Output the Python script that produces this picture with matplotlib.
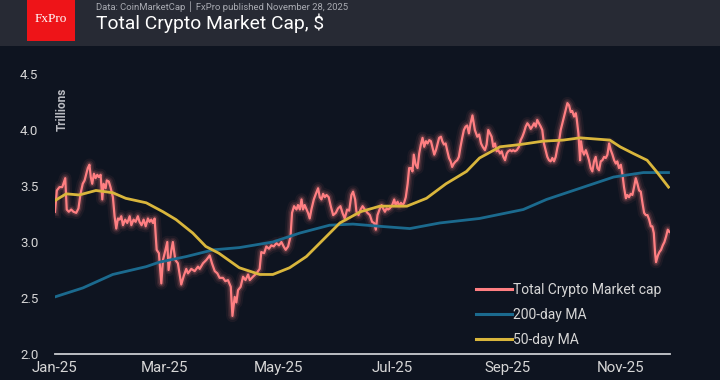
import datetime as dt

import matplotlib

matplotlib.use("Agg")
import matplotlib.dates as mdates
import matplotlib.pyplot as plt
from matplotlib.patches import Rectangle

# days since 2025-01-01, values in $ trillions
mcap_day = [
    0, 1.0, 2.4, 3.9, 5.5, 6.3, 7.4, 8.7, 9.9, 11.4, 12.6, 13.7, 14.9, 15.9, 16.8, 17.6, 18.5,
    19.2, 20.0, 20.9, 21.8, 22.7, 23.5, 24.5, 25.4, 26.1, 27.2, 27.8, 28.9, 29.8, 31.1, 32.0,
    32.9, 33.8, 34.7, 35.6, 36.5, 37.7, 38.8, 40.1, 41.0, 42.2, 43.3, 44.5, 45.4, 46.5, 47.6,
    48.7, 49.9, 50.8, 51.7, 52.6, 53.5, 54.6, 55.8, 57.1, 58.0, 58.9, 60.3, 61.0, 62.5, 63.3,
    64.6, 66.0, 67.8, 69.2, 70.5, 71.4, 73.2, 75.0, 76.8, 77.7, 79.5, 81.3, 83.1, 84.3, 85.8,
    87.2, 88.4, 90.2, 91.5, 92.9, 94.4, 95.3, 96.5, 97.4, 98.3, 99.7, 101.0, 102.3, 103.7,
    104.6, 106.3, 108.2, 109.9, 110.8, 112.3, 113.5, 114.9, 116.2, 117.5, 118.9, 120.3, 121.6,
    122.8, 123.9, 125.2, 126.5, 127.3, 128.4, 129.7, 130.5, 131.5, 132.4, 133.2, 134.1, 135.1,
    135.9, 136.8, 137.7, 139.0, 140.1, 141.3, 142.2, 143.1, 144.0, 144.9, 145.8, 147.0, 148.1,
    149.4, 150.8, 152.0, 153.3, 154.4, 155.6, 156.9, 158.0, 159.2, 160.1, 161.2, 161.9, 163.0,
    164.1, 165.2, 166.4, 167.8, 169.1, 170.3, 171.4, 172.3, 173.2, 174.5, 175.4, 176.2, 177.2,
    178.1, 178.9, 179.8, 181.1, 182.2, 182.9, 184.0, 184.8, 185.8, 186.7, 187.5, 188.4, 189.4,
    190.2, 191.1, 192.0, 192.7, 193.7, 194.7, 195.6, 196.5, 197.4, 198.3, 199.2, 200.1, 201.0,
    201.9, 202.8, 203.7, 204.6, 205.5, 206.3, 207.3, 208.0, 208.9, 209.8, 210.6, 211.6, 212.5,
    213.3, 214.2, 215.2, 216.0, 216.9, 217.8, 218.7, 219.6, 220.5, 221.4, 222.3, 223.2, 224.2,
    225.5, 226.8, 227.8, 228.8, 229.7, 230.9, 231.8, 232.7, 233.6, 234.5, 235.4, 236.3, 237.2,
    238.1, 239.0, 239.9, 240.8, 241.7, 242.6, 243.4, 244.4, 245.3, 246.1, 247.0, 248.0, 249.2,
    250.1, 251.0, 251.9, 252.8, 253.7, 254.6, 255.5, 256.3, 257.3, 258.2, 259.0, 259.9, 260.9,
    261.7, 262.6, 263.5, 264.4, 265.3, 266.2, 267.1, 268.0, 268.9, 269.8, 270.7, 271.6, 272.5,
    273.4, 274.3, 275.2, 276.1, 277.0, 277.8, 278.8, 279.7, 280.2, 281.1, 282.0, 282.5, 283.2,
    284.1, 285.1, 285.9, 286.8, 287.7, 288.6, 289.5, 290.4, 291.3, 292.2, 293.1, 294.0, 294.9,
    295.8, 296.7, 297.6, 298.5, 299.4, 300.3, 301.2, 302.0, 302.9, 303.9, 304.7, 305.6, 306.6,
    307.4, 308.3, 309.2, 310.1, 311.0, 311.9, 312.8, 313.7, 314.6, 315.5, 316.4, 317.3, 318.2,
    319.1, 320.0, 320.8, 321.6, 322.3, 322.8, 323.8, 324.6, 325.5, 326.4, 327.3, 328.2, 329.1,
    330.0,
]
mcap_val = [
    3.27, 3.46, 3.49, 3.49, 3.57, 3.29, 3.27, 3.29, 3.27, 3.26, 3.30, 3.43, 3.52, 3.55, 3.61, 3.66, 3.69,
    3.58, 3.52, 3.61, 3.57, 3.60, 3.58, 3.60, 3.38, 3.52, 3.48, 3.55, 3.54, 3.49, 3.40, 3.23,
    3.12, 3.21, 3.20, 3.23, 3.15, 3.20, 3.17, 3.23, 3.15, 3.20, 3.18, 3.23, 3.18, 3.15, 3.20,
    3.14, 3.21, 3.18, 3.20, 3.17, 3.21, 2.93, 2.90, 2.63, 2.84, 2.90, 3.00, 2.75, 2.93, 3.00,
    2.84, 2.81, 2.62, 2.70, 2.76, 2.72, 2.76, 2.74, 2.78, 2.76, 2.81, 2.84, 2.88, 2.81, 2.74,
    2.72, 2.68, 2.68, 2.65, 2.66, 2.60, 2.34, 2.51, 2.46, 2.57, 2.60, 2.69, 2.66, 2.71,
    2.66, 2.69, 2.72, 2.76, 2.91, 2.90, 2.96, 2.94, 2.97, 2.96, 2.99, 2.97, 3.00,
    2.96, 2.93, 2.96, 3.05, 3.26, 3.32, 3.29, 3.33, 3.29, 3.38, 3.29, 3.33, 3.29,
    3.26, 3.21, 3.29, 3.38, 3.43, 3.48, 3.40, 3.38, 3.43, 3.40, 3.42, 3.40, 3.32,
    3.24, 3.26, 3.30, 3.32, 3.26, 3.21, 3.29, 3.28, 3.42, 3.45, 3.38, 3.27, 3.24,
    3.29, 3.32, 3.29, 3.26, 3.24, 3.18, 3.17, 3.11, 3.24, 3.30, 3.33, 3.30, 3.27,
    3.30, 3.29, 3.30, 3.33, 3.38, 3.33, 3.36, 3.32, 3.35, 3.33, 3.35, 3.40, 3.52,
    3.66, 3.66, 3.63, 3.78, 3.69, 3.66, 3.79, 3.87, 3.93, 3.85, 3.90, 3.88, 3.91,
    3.90, 3.84, 3.78, 3.82, 3.88, 3.93, 3.94, 3.90, 3.87, 3.88, 3.82, 3.75, 3.72,
    3.67, 3.70, 3.72, 3.73, 3.76, 3.85, 3.93, 4.00, 4.03, 4.04, 3.97, 4.06, 4.13,
    4.00, 3.94, 3.96, 3.88, 3.85, 3.82, 3.87, 4.00, 3.97, 3.94, 3.85, 3.88, 3.81,
    3.82, 3.79, 3.81, 3.76, 3.73, 3.79, 3.81, 3.82, 3.81, 3.82, 3.81, 3.82, 3.85,
    3.91, 3.94, 3.98, 4.03, 4.06, 4.04, 4.01, 4.03, 4.06, 4.03, 4.09, 4.06, 4.03,
    4.00, 3.88, 3.82, 3.76, 3.73, 3.72, 3.75, 3.72, 3.76, 3.84, 3.90, 4.00, 4.06,
    4.12, 4.18, 4.24, 4.22, 4.16, 4.17, 4.12, 4.15, 4.10, 3.97, 3.73, 3.90, 3.82,
    3.78, 3.82, 3.78, 3.73, 3.66, 3.63, 3.72, 3.76, 3.66, 3.64, 3.72, 3.73, 3.76,
    3.75, 3.78, 3.88, 3.82, 3.78, 3.73, 3.70, 3.72, 3.66, 3.69, 3.61, 3.49, 3.39,
    3.42, 3.40, 3.43, 3.42, 3.49, 3.57, 3.52, 3.46, 3.45, 3.35, 3.26, 3.24, 3.24,
    3.20, 3.14, 3.14, 3.08, 2.90, 2.82, 2.88, 2.91, 2.93, 2.97, 3.00, 3.05, 3.11,
    3.09,
]

ma200_day = [0, 15, 31, 49, 56, 70.5, 85, 99, 117, 131.5, 147.5, 160, 174.5, 190.6, 206.7,
             228, 251.5, 264, 282, 300, 316, 329.5]
ma200_val = [2.51, 2.59, 2.71, 2.78, 2.82, 2.87, 2.93, 2.95, 3.00, 3.08, 3.15, 3.16, 3.14, 3.12,
             3.17, 3.21, 3.29, 3.38, 3.48, 3.58, 3.62, 3.62]

ma50_day = [0, 6, 13, 22, 31, 38, 49, 58, 65, 74, 81, 88, 99, 110, 117, 126, 135, 144, 153, 164,
            174.5, 189, 199.5, 210, 221, 228, 239, 249.7, 262, 273, 282, 298, 303.5, 310.6, 318,
            323, 329.5]
ma50_val = [3.37, 3.43, 3.42, 3.46, 3.44, 3.39, 3.35, 3.27, 3.20, 3.08, 2.96, 2.90, 2.77, 2.71,
            2.71, 2.77, 2.87, 3.02, 3.17, 3.27, 3.32, 3.32, 3.39, 3.52, 3.63, 3.75, 3.85, 3.87,
            3.90, 3.91, 3.93, 3.91, 3.85, 3.79, 3.73, 3.63, 3.49]

BG = "#0e1420"
HEADER = "#272a34"
RED = "#ff7f82"
BLUE = "#1b6a8e"
YELLOW = "#d9b63c"
TXT = "#d6d6d6"

plt.rcParams["font.family"] = ["Roboto", "DejaVu Sans"]

base = mdates.date2num(dt.datetime(2025, 1, 1))


def to_x(days):
    return [base + d for d in days]


fig = plt.figure(figsize=(7.2, 3.8), dpi=100, facecolor=BG)

# header strip + logo
fig.patches.append(Rectangle((0, 1 - 46 / 380), 1, 46 / 380, transform=fig.transFigure,
                             facecolor=HEADER, edgecolor="none", zorder=0))
fig.patches.append(Rectangle((27 / 720, 1 - 41 / 380), 48 / 720, 41 / 380, transform=fig.transFigure,
                             facecolor="#ee1418", edgecolor="none", zorder=1))
fig.text(51 / 720, 1 - 19 / 380, "FxPro", color="white", fontsize=9.5, ha="center", va="center",
         family=["Liberation Serif", "DejaVu Serif"])
fig.text(96 / 720, 1 - 7 / 380, "Data: CoinMarketCap \u2502 FxPro published November 28, 2025",
         color="#a9abb2", fontsize=6.8, ha="left", va="center")
fig.text(96 / 720, 1 - 23 / 380, "Total Crypto Market Cap, $", color="white", fontsize=13.9,
         ha="left", va="center")

ax = fig.add_axes([55 / 720, 26 / 380, 615 / 720, 280 / 380])
ax.set_facecolor(BG)

x = to_x(mcap_day)
# soft glow under the main series
for lw, a in ((9, 0.06), (6, 0.10), (3.8, 0.18)):
    ax.plot(x, mcap_val, color=RED, lw=lw, alpha=a, solid_joinstyle="round", zorder=2)
ax.plot(x, mcap_val, color=RED, lw=1.6, zorder=3, label="Total Crypto Market cap")
ax.plot(to_x(ma200_day), ma200_val, color=BLUE, lw=2, zorder=4, label="200-day MA")
ax.plot(to_x(ma50_day), ma50_val, color=YELLOW, lw=2, zorder=4, label="50-day MA")

ax.set_ylim(2.0, 4.5)
ax.set_xlim(base, base + 330.3)
ax.set_yticks([2.0, 2.5, 3.0, 3.5, 4.0, 4.5])
ax.yaxis.set_major_formatter(matplotlib.ticker.FormatStrFormatter("%.1f"))
ax.xaxis.set_major_locator(mdates.MonthLocator(bymonth=[1, 3, 5, 7, 9, 11]))
ax.xaxis.set_major_formatter(mdates.DateFormatter("%b-%y"))
ax.tick_params(axis="both", length=0, colors=TXT)
ax.tick_params(axis="y", pad=12, labelsize=9.5)
ax.tick_params(axis="x", pad=5, labelsize=10.8)
for s in ("top", "right", "left"):
    ax.spines[s].set_visible(False)
ax.spines["bottom"].set_color("#c9cbd0")
ax.spines["bottom"].set_linewidth(1.3)

ax.text(0.012, 0.95, "Trillions", transform=ax.transAxes, rotation=90, ha="center", va="top",
        color="#b9bbc1", fontsize=8.5, fontweight="bold")

leg = ax.legend(loc="lower right", bbox_to_anchor=(1.0, -0.005), frameon=False, fontsize=10,
                handlelength=2.6, handletextpad=0.1, labelspacing=0.8, borderaxespad=0.2)
for t in leg.get_texts():
    t.set_color(TXT)
for h in leg.get_lines():
    h.set_linewidth(2.2)

fig.savefig("out.png", dpi=100, facecolor=BG)
